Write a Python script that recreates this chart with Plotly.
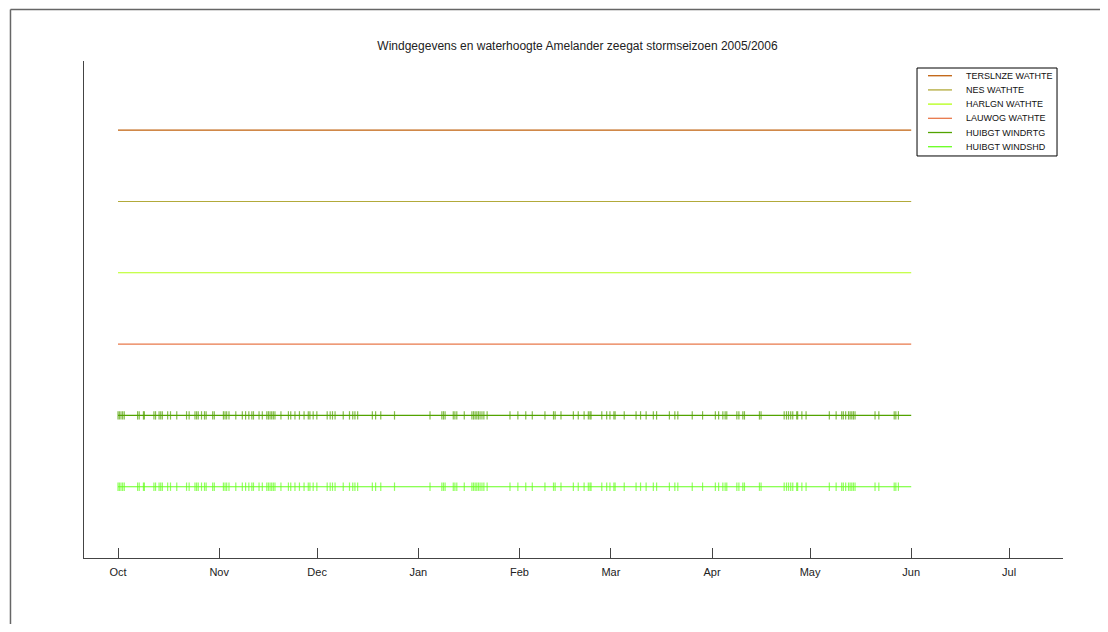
import plotly.graph_objects as go

# ---------------- data ----------------
series_names = ["TERSLNZE WATHTE", "NES WATHTE", "HARLGN WATHTE",
                "LAUWOG WATHTE", "HUIBGT WINDRTG", "HUIBGT WINDSHD"]
series_levels = [6, 5, 4, 3, 2, 1]
series_colors = ["#c0600c", "#b2aa3a", "#b4ff14", "#e8784a", "#52a300", "#66ff1e"]
period_dates = ["2005-10-01", "2006-06-01"]

# moments with wind observations (ticks on both HUIBGT lines)
wind_event_dates = [
    "2005-10-01 00:00", "2005-10-01 10:00", "2005-10-01 22:00", "2005-10-02 10:00", "2005-10-02 22:00",
    "2005-10-07 00:00", "2005-10-07 12:00", "2005-10-08 19:00", "2005-10-09 02:00",
    "2005-10-12 00:00", "2005-10-12 12:00", "2005-10-13 14:00", "2005-10-14 02:00", "2005-10-14 14:00",
    "2005-10-16 05:00", "2005-10-17 02:00", "2005-10-19 00:00",
    "2005-10-22 00:00", "2005-10-22 19:00", "2005-10-24 14:00", "2005-10-25 02:00", "2005-10-25 14:00",
    "2005-10-26 14:00", "2005-10-27 12:00", "2005-10-28 00:00", "2005-10-30 00:00", "2005-10-30 12:00",
    "2005-11-02 07:00", "2005-11-02 19:00", "2005-11-03 07:00", "2005-11-04 00:00", "2005-11-06 02:00",
    "2005-11-08 02:00", "2005-11-09 02:00", "2005-11-10 02:00", "2005-11-11 00:00", "2005-11-11 12:00",
    "2005-11-13 05:00", "2005-11-14 05:00", "2005-11-15 14:00", "2005-11-16 02:00", "2005-11-16 14:00",
    "2005-11-17 02:00", "2005-11-17 14:00", "2005-11-18 02:00", "2005-11-19 22:00",
    "2005-11-22 05:00", "2005-11-22 22:00", "2005-11-24 05:00", "2005-11-25 14:00", "2005-11-27 00:00",
    "2005-11-28 07:00", "2005-11-28 19:00", "2005-11-29 19:00", "2005-11-30 22:00",
    "2005-12-04 02:00", "2005-12-05 00:00", "2005-12-05 17:00", "2005-12-06 12:00", "2005-12-09 00:00",
    "2005-12-10 22:00", "2005-12-11 22:00", "2005-12-12 14:00", "2005-12-13 10:00",
    "2005-12-17 22:00", "2005-12-18 22:00", "2005-12-20 12:00", "2005-12-24 17:00",
    "2006-01-04 14:00", "2006-01-08 05:00", "2006-01-08 17:00", "2006-01-09 05:00",
    "2006-01-11 17:00", "2006-01-12 05:00", "2006-01-12 19:00", "2006-01-15 02:00",
    "2006-01-17 10:00", "2006-01-17 22:00", "2006-01-18 10:00", "2006-01-18 22:00", "2006-01-19 10:00",
    "2006-01-19 22:00", "2006-01-20 12:00", "2006-01-21 02:00", "2006-01-22 02:00",
    "2006-01-29 02:00", "2006-01-31 12:00", "2006-02-02 22:00", "2006-02-04 22:00", "2006-02-08 19:00",
    "2006-02-11 10:00", "2006-02-11 22:00", "2006-02-13 17:00", "2006-02-17 12:00", "2006-02-19 00:00",
    "2006-02-20 19:00", "2006-02-22 02:00", "2006-02-22 14:00", "2006-02-22 22:00",
    "2006-02-26 05:00", "2006-02-27 17:00", "2006-02-28 17:00", "2006-03-01 22:00", "2006-03-02 07:00",
    "2006-03-05 02:00", "2006-03-08 17:00", "2006-03-10 02:00", "2006-03-11 19:00",
    "2006-03-14 00:00", "2006-03-15 00:00", "2006-03-18 22:00", "2006-03-20 14:00", "2006-03-21 12:00",
    "2006-03-25 22:00", "2006-03-29 02:00",
    "2006-04-02 00:00", "2006-04-03 00:00", "2006-04-04 07:00", "2006-04-05 00:00", "2006-04-05 12:00",
    "2006-04-08 14:00", "2006-04-09 05:00", "2006-04-10 10:00", "2006-04-10 22:00",
    "2006-04-15 12:00", "2006-04-16 00:00",
    "2006-04-23 02:00", "2006-04-23 19:00", "2006-04-24 10:00", "2006-04-25 02:00", "2006-04-25 17:00",
    "2006-04-26 22:00", "2006-04-27 05:00", "2006-04-28 12:00", "2006-04-29 19:00",
    "2006-05-06 22:00", "2006-05-09 00:00", "2006-05-10 17:00", "2006-05-11 05:00", "2006-05-11 22:00",
    "2006-05-12 19:00", "2006-05-13 07:00", "2006-05-13 19:00", "2006-05-14 07:00", "2006-05-14 19:00",
    "2006-05-20 22:00", "2006-05-22 02:00", "2006-05-26 19:00", "2006-05-27 07:00", "2006-05-28 02:00",
]

month_ticks = ["2005-10-01", "2005-11-01", "2005-12-01", "2006-01-01", "2006-02-01",
               "2006-03-01", "2006-04-01", "2006-05-01", "2006-06-01", "2006-07-01"]
month_labels = ["Oct", "Nov", "Dec", "Jan", "Feb", "Mar", "Apr", "May", "Jun", "Jul"]

# ---------------- figure ----------------
fig = go.Figure()

for name, level, color in zip(series_names, series_levels, series_colors):
    fig.add_trace(go.Scatter(
        x=period_dates, y=[level] * len(period_dates),
        mode="lines", name=name, showlegend=False,
        line=dict(color=color, width=1.1),
    ))

for name, level, color in zip(series_names[4:], series_levels[4:], series_colors[4:]):
    fig.add_trace(go.Scatter(
        x=wind_event_dates, y=[level] * len(wind_event_dates),
        mode="markers", name=name, showlegend=False, hoverinfo="x",
        marker=dict(symbol="line-ns", size=6, opacity=0.7,
                    line=dict(color=color, width=1.2)),
    ))

# ---- legend box (drawn as shapes + text, MATLAB style compact rows) ----
shapes = []
annotations = []
lg_x0, lg_x1, lg_y0, lg_y1 = 0.8509, 0.9939, 0.8089, 0.9859
shapes.append(dict(type="rect", xref="paper", yref="paper",
                   x0=lg_x0, x1=lg_x1, y0=lg_y0, y1=lg_y1,
                   fillcolor="white", line=dict(color="#000000", width=1)))
row_top, row_step = 0.9704, 0.02857
for i, (name, color) in enumerate(zip(series_names, series_colors)):
    yy = row_top - i * row_step
    shapes.append(dict(type="line", xref="paper", yref="paper",
                       x0=0.8621, x1=0.8866, y0=yy, y1=yy,
                       line=dict(color=color, width=1.3)))
    annotations.append(dict(xref="paper", yref="paper", x=0.8985, y=yy,
                            xanchor="left", yanchor="middle", showarrow=False,
                            text=name, font=dict(size=9, color="#111111")))

# outer figure frame (top + left edge)
shapes.append(dict(type="line", xref="paper", yref="paper",
                   x0=-0.0751, x1=1.2, y0=1.1036, y1=1.1036,
                   line=dict(color="#666666", width=1.5)))
shapes.append(dict(type="line", xref="paper", yref="paper",
                   x0=-0.0751, x1=-0.0751, y0=1.1036, y1=-0.2,
                   line=dict(color="#666666", width=1.5)))

axis_color = "#444444"
fig.update_layout(
    width=1092, height=616,
    paper_bgcolor="white", plot_bgcolor="white",
    margin=dict(l=76, r=37, t=53, b=66),
    font=dict(family="Liberation Sans, Arial, sans-serif", size=11, color="#222222"),
    title=dict(text="Windgegevens en waterhoogte Amelander zeegat stormseizoen 2005/2006",
               x=0.5215, xanchor="center", y=0.938, yanchor="middle",
               font=dict(size=12, color="#222222")),
    showlegend=False,
    xaxis=dict(
        type="date",
        range=["2005-09-20 14:00", "2006-07-17 12:00"],
        tickmode="array", tickvals=month_ticks, ticktext=month_labels,
        ticks="inside", ticklen=10, tickwidth=1, tickcolor=axis_color,
        ticklabelstandoff=4,
        showline=True, linecolor=axis_color, linewidth=1.2,
        showgrid=False, zeroline=False,
        tickfont=dict(size=11, color="#222222"),
    ),
    yaxis=dict(
        range=[0, 6.97],
        showticklabels=False, ticks="",
        showline=True, linecolor=axis_color, linewidth=1.2,
        showgrid=False, zeroline=False,
    ),
    shapes=shapes,
    annotations=annotations,
)

fig.write_html("out.html")
